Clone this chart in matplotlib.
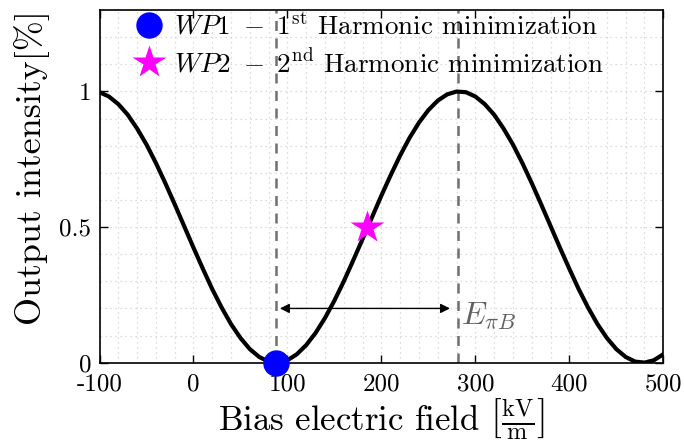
import numpy as np
import matplotlib
matplotlib.use("Agg")
from matplotlib import pyplot as plt
from matplotlib.ticker import MultipleLocator

plt.rcParams['font.family'] = 'cmr10'
plt.rcParams['mathtext.fontset'] = 'cm'
plt.rcParams['axes.unicode_minus'] = False

# bias field [kV/m] and output intensity
field = list(range(-100, 510, 10))
intensity = [0.997, 0.981, 0.953, 0.914, 0.863, 0.804, 0.736, 0.662, 0.584, 0.504,
             0.424, 0.346, 0.271, 0.203, 0.142, 0.091, 0.050, 0.021, 0.004, 0.0003,
             0.009, 0.031, 0.065, 0.110, 0.165, 0.229, 0.300, 0.377, 0.456, 0.536,
             0.616, 0.692, 0.764, 0.829, 0.885, 0.931, 0.966, 0.989, 0.9994, 0.997,
             0.981, 0.953, 0.914, 0.863, 0.804, 0.736, 0.662, 0.584, 0.504, 0.424,
             0.346, 0.271, 0.203, 0.142, 0.091, 0.050, 0.021, 0.004, 0.0003, 0.009,
             0.031]

wp1 = (88, 0.0)
wp2 = (185, 0.5)
e_pi_b = (88, 282)  # dashed lines / arrow ends
arrow_y = 0.2

xticks = [-100, 0, 100, 200, 300, 400, 500]
xticklabels = ["-100", "0", "100", "200", "300", "400", "500"]
yticks = [0, 0.5, 1]
yticklabels = ["0", "0.5", "1"]

fig = plt.figure(figsize=(6.84, 4.46), dpi=100)
ax = fig.add_axes([0.1455, 0.1868, 0.8242, 0.7908])

ax.plot(field, intensity, color='k', lw=3, zorder=3)
for xv in e_pi_b:
    ax.axvline(xv, color='#707070', ls=(0, (4, 3)), lw=1.8, zorder=2)

ax.annotate('', xy=(e_pi_b[0] + 4, arrow_y), xytext=(e_pi_b[1] - 9, arrow_y),
            arrowprops=dict(arrowstyle='<|-|>', color='k', lw=1, mutation_scale=14,
                            shrinkA=0, shrinkB=0), zorder=4)
ax.text(e_pi_b[1] + 3, arrow_y - 0.03, r'$E_{\pi B}$', fontsize=23, color='#606060',
        va='center', ha='left')

ax.plot(*wp1, 'o', color='#0000ff', ms=18, zorder=5, clip_on=False,
        label=r'$WP1\ -\ 1^{\mathrm{st}}$ Harmonic minimization')
ax.plot(*wp2, '*', color='#ff00ff', ms=25, zorder=5, mec='none',
        label=r'$WP2\ -\ 2^{\mathrm{nd}}$ Harmonic minimization')

ax.set_xlim(-100, 500)
ax.set_ylim(0, 1.3)
ax.set_xticks(xticks)
ax.set_xticklabels(xticklabels)
ax.set_yticks(yticks)
ax.set_yticklabels(yticklabels)
ax.xaxis.set_minor_locator(MultipleLocator(20))
ax.yaxis.set_minor_locator(MultipleLocator(0.1))
ax.grid(which='both', color='#d0d0d0', ls=(0, (1, 3)), lw=0.9)
ax.tick_params(which='major', direction='in', top=True, right=True, length=6,
               labelsize=18, width=1)
ax.tick_params(axis='x', pad=8)
ax.tick_params(axis='y', pad=6)
ax.tick_params(which='minor', length=0)
for s in ax.spines.values():
    s.set_linewidth(1.2)

ax.set_xlabel(r'Bias electric field $\left[\frac{\mathrm{kV}}{\mathrm{m}}\right]$',
              fontsize=25, labelpad=0)
ax.set_ylabel('Output intensity[%]', fontsize=26)
ax.yaxis.set_label_coords(-0.088, 0.552)

ax.legend(loc='upper left', frameon=False, fontsize=19.5, handletextpad=0.3,
          borderaxespad=0.0, labelspacing=0.3, bbox_to_anchor=(0.04, 1.025),
          handlelength=1.2)

fig.savefig('out.png', dpi=100)
